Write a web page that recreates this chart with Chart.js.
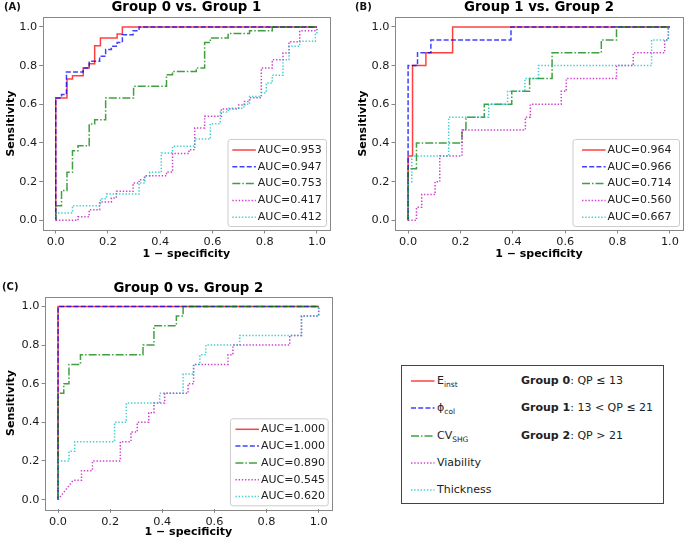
<!DOCTYPE html>
<html>
<head>
<meta charset="utf-8">
<script src="https://cdn.jsdelivr.net/npm/chart.js@4.4.1/dist/chart.umd.min.js"></script>
<style>
  body { margin: 0; background: #fff; font-family: "DejaVu Sans", sans-serif; color: #111; }
  #page { position: relative; width: 685px; height: 543px; overflow: hidden; }
  canvas { position: absolute; }
  .tag { position: absolute; font-weight: bold; font-size: 10px; line-height: 12px; }
  #keys { position: absolute; left: 401px; top: 365px; width: 261px; height: 137px; border: 1px solid #444; font-size: 11px; color: #222; }
  .row { position: absolute; height: 14px; line-height: 14px; white-space: nowrap; }
  .row svg { position: absolute; left: 9px; top: 4px; }
  .row .name { position: absolute; left: 35px; }
  .sub { font-size: 7.5px; position: relative; top: 3px; }
  .grp { position: absolute; left: 119px; white-space: nowrap; }
</style>
</head>
<body>
<div id="page">
  <canvas id="chartA" width="340" height="265" style="left:0;top:0"></canvas>
  <canvas id="chartB" width="333" height="265" style="left:352px;top:0"></canvas>
  <canvas id="chartC" width="340" height="273" style="left:0;top:270px"></canvas>
  <div class="tag" style="left:4px;top:1px">(A)</div>
  <div class="tag" style="left:355px;top:1px">(B)</div>
  <div class="tag" style="left:2px;top:281px">(C)</div>
  <div id="keys"></div>
</div>
<script>
// Series names, groups and ticks
const seriesNames = ["E_inst", "ϕ_col", "CV_SHG", "Viability", "Thickness"];
const groupNames = ["Group 0", "Group 1", "Group 2"];
const groupRanges = ["QP ≤ 13", "13 < QP ≤ 21", "QP > 21"];
const tickValues = [0, 0.2, 0.4, 0.6, 0.8, 1.0];

// (A) Group 0 vs. Group 1 : ROC points (1 - specificity, sensitivity)
const aucA = ["0.953", "0.947", "0.753", "0.417", "0.412"];
const fprA_einst = [0, 0, 0.043, 0.043, 0.064, 0.064, 0.105, 0.105, 0.128, 0.128, 0.149, 0.149, 0.171, 0.171, 0.235, 0.235, 0.255, 0.255, 1];
const tprA_einst = [0, 0.633, 0.633, 0.731, 0.731, 0.748, 0.748, 0.788, 0.788, 0.81, 0.81, 0.903, 0.903, 0.943, 0.943, 0.964, 0.964, 1, 1];
const fprA_phi = [0, 0, 0.022, 0.022, 0.041, 0.041, 0.105, 0.105, 0.128, 0.128, 0.168, 0.168, 0.191, 0.191, 0.213, 0.213, 0.235, 0.235, 0.255, 0.255, 0.296, 0.296, 0.319, 0.319, 1];
const tprA_phi = [0, 0.633, 0.633, 0.65, 0.65, 0.767, 0.767, 0.788, 0.788, 0.822, 0.822, 0.848, 0.848, 0.883, 0.883, 0.9, 0.9, 0.92, 0.92, 0.96, 0.96, 0.98, 0.98, 1, 1];
const fprA_cv = [0, 0, 0.022, 0.022, 0.043, 0.043, 0.064, 0.064, 0.085, 0.085, 0.128, 0.128, 0.149, 0.149, 0.191, 0.191, 0.298, 0.298, 0.424, 0.424, 0.447, 0.447, 0.538, 0.538, 0.57, 0.57, 0.592, 0.592, 0.66, 0.66, 0.742, 0.742, 0.829, 0.829, 1];
const tprA_cv = [0, 0.076, 0.076, 0.154, 0.154, 0.248, 0.248, 0.36, 0.36, 0.386, 0.386, 0.498, 0.498, 0.52, 0.52, 0.633, 0.633, 0.693, 0.693, 0.753, 0.753, 0.77, 0.77, 0.788, 0.788, 0.92, 0.92, 0.943, 0.943, 0.966, 0.966, 0.98, 0.98, 1, 1];
const fprA_via = [0, 0.085, 0.085, 0.128, 0.128, 0.168, 0.168, 0.213, 0.213, 0.232, 0.232, 0.296, 0.296, 0.319, 0.319, 0.34, 0.34, 0.424, 0.424, 0.447, 0.447, 0.51, 0.51, 0.532, 0.532, 0.57, 0.57, 0.634, 0.634, 0.7, 0.7, 0.723, 0.723, 0.742, 0.742, 0.787, 0.787, 0.829, 0.829, 0.87, 0.87, 0.893, 0.893, 0.934, 0.934, 1, 1];
const tprA_via = [0, 0, 0.018, 0.018, 0.055, 0.055, 0.095, 0.095, 0.116, 0.116, 0.15, 0.15, 0.193, 0.193, 0.21, 0.21, 0.23, 0.23, 0.25, 0.25, 0.346, 0.346, 0.365, 0.365, 0.478, 0.478, 0.538, 0.538, 0.576, 0.576, 0.596, 0.596, 0.615, 0.615, 0.634, 0.634, 0.788, 0.788, 0.83, 0.83, 0.865, 0.865, 0.923, 0.923, 0.98, 0.98, 1];
const fprA_thk = [0, 0, 0.064, 0.064, 0.171, 0.171, 0.194, 0.194, 0.319, 0.319, 0.341, 0.341, 0.36, 0.36, 0.404, 0.404, 0.447, 0.447, 0.532, 0.532, 0.592, 0.592, 0.63, 0.63, 0.66, 0.66, 0.72, 0.72, 0.742, 0.742, 0.787, 0.787, 0.806, 0.806, 0.829, 0.829, 0.87, 0.87, 0.893, 0.893, 0.934, 0.934, 0.994, 0.994, 1, 1];
const tprA_thk = [0, 0.038, 0.038, 0.076, 0.076, 0.112, 0.112, 0.136, 0.136, 0.193, 0.193, 0.231, 0.231, 0.248, 0.248, 0.348, 0.348, 0.383, 0.383, 0.42, 0.42, 0.5, 0.5, 0.56, 0.56, 0.58, 0.58, 0.6, 0.6, 0.64, 0.64, 0.66, 0.66, 0.71, 0.71, 0.75, 0.75, 0.83, 0.83, 0.9, 0.9, 0.926, 0.926, 0.97, 0.97, 1];

// (B) Group 1 vs. Group 2
const aucB = ["0.964", "0.966", "0.714", "0.560", "0.667"];
const fprB_einst = [0, 0, 0.017, 0.017, 0.068, 0.068, 0.17, 0.17, 1];
const tprB_einst = [0, 0.333, 0.333, 0.8, 0.8, 0.867, 0.867, 1, 1];
const fprB_phi = [0, 0, 0.036, 0.036, 0.087, 0.087, 0.393, 0.393, 1];
const tprB_phi = [0, 0.8, 0.8, 0.867, 0.867, 0.933, 0.933, 1, 1];
const fprB_cv = [0, 0, 0.032, 0.032, 0.206, 0.206, 0.221, 0.221, 0.291, 0.291, 0.396, 0.396, 0.464, 0.464, 0.55, 0.55, 0.738, 0.738, 0.796, 0.796, 1];
const tprB_cv = [0, 0.267, 0.267, 0.4, 0.4, 0.467, 0.467, 0.533, 0.533, 0.6, 0.6, 0.667, 0.667, 0.733, 0.733, 0.867, 0.867, 0.933, 0.933, 1, 1];
const fprB_via = [0, 0.032, 0.032, 0.052, 0.052, 0.103, 0.103, 0.121, 0.121, 0.206, 0.206, 0.448, 0.448, 0.467, 0.467, 0.585, 0.585, 0.604, 0.604, 0.796, 0.796, 0.86, 0.86, 0.98, 0.98, 0.994, 0.994, 1];
const tprB_via = [0, 0, 0.067, 0.067, 0.133, 0.133, 0.2, 0.2, 0.333, 0.333, 0.467, 0.467, 0.533, 0.533, 0.6, 0.6, 0.667, 0.667, 0.733, 0.733, 0.8, 0.8, 0.867, 0.867, 0.933, 0.933, 1, 1];
const fprB_thk = [0, 0, 0.014, 0.014, 0.155, 0.155, 0.308, 0.308, 0.38, 0.38, 0.446, 0.446, 0.498, 0.498, 0.93, 0.93, 0.994, 0.994, 1];
const tprB_thk = [0, 0.2, 0.2, 0.333, 0.333, 0.533, 0.533, 0.6, 0.6, 0.667, 0.667, 0.733, 0.733, 0.8, 0.8, 0.933, 0.933, 1, 1];

// (C) Group 0 vs. Group 2
const aucC = ["1.000", "1.000", "0.890", "0.545", "0.620"];
const fprC_einst = [0, 0, 1];
const tprC_einst = [0, 1, 1];
const fprC_phi = [0, 0, 1];
const tprC_phi = [0, 1, 1];
const fprC_cv = [0, 0, 0.022, 0.022, 0.042, 0.042, 0.086, 0.086, 0.326, 0.326, 0.368, 0.368, 0.454, 0.454, 0.48, 0.48, 1];
const tprC_cv = [0, 0.55, 0.55, 0.6, 0.6, 0.7, 0.7, 0.75, 0.75, 0.8, 0.8, 0.9, 0.9, 0.95, 0.95, 1, 1];
const fprC_via = [0, 0.058, 0.09, 0.09, 0.132, 0.132, 0.239, 0.239, 0.28, 0.28, 0.304, 0.304, 0.348, 0.348, 0.368, 0.368, 0.409, 0.409, 0.499, 0.499, 0.52, 0.52, 0.652, 0.652, 0.671, 0.671, 0.889, 0.889, 0.934, 0.934, 1, 1];
const tprC_via = [0, 0.1, 0.1, 0.15, 0.15, 0.2, 0.2, 0.3, 0.3, 0.35, 0.35, 0.4, 0.4, 0.45, 0.45, 0.5, 0.5, 0.55, 0.55, 0.6, 0.6, 0.7, 0.7, 0.75, 0.75, 0.8, 0.8, 0.85, 0.85, 0.95, 0.95, 1];
const fprC_thk = [0, 0, 0.042, 0.042, 0.064, 0.064, 0.217, 0.217, 0.262, 0.262, 0.39, 0.39, 0.48, 0.48, 0.52, 0.52, 0.544, 0.544, 0.567, 0.567, 0.697, 0.697, 0.934, 0.934, 1, 1];
const tprC_thk = [0, 0.2, 0.2, 0.25, 0.25, 0.3, 0.3, 0.4, 0.4, 0.5, 0.5, 0.55, 0.55, 0.65, 0.65, 0.7, 0.7, 0.75, 0.75, 0.8, 0.8, 0.85, 0.85, 0.95, 0.95, 1];

// Styles
const FONT = "DejaVu Sans";
const lineColors = ["rgba(255,0,0,0.75)", "rgba(0,0,255,0.75)", "rgba(0,128,0,0.75)", "rgba(191,0,191,0.75)", "rgba(0,191,191,0.75)"];
const lineDashes = [[], [5, 2.2], [8, 2, 1.5, 2], [1.4, 1.8], [1.4, 1.8]];

// box around the plot area
const framePlugin = {
  id: "frame",
  afterDatasetsDraw(chart) {
    const { ctx, chartArea: a } = chart;
    ctx.save();
    ctx.strokeStyle = "#888";
    ctx.lineWidth = 1;
    ctx.strokeRect(Math.round(a.left) + 0.5, Math.round(a.top) + 0.5, Math.round(a.right - a.left), Math.round(a.bottom - a.top));
    ctx.restore();
  },
};

// legend inside the plot, lower right
const aucLegend = {
  id: "aucLegend",
  afterDatasetsDraw(chart, args, opts) {
    const { ctx, chartArea: a } = chart;
    const sets = chart.data.datasets;
    ctx.save();
    ctx.font = "11px '" + FONT + "'";
    const textW = Math.max(...sets.map(d => ctx.measureText(d.label).width));
    const rowH = 16.8;
    const w = opts.padL + 23.5 + 2 + textW + opts.padR;
    const h = rowH * sets.length + 3;
    const x0 = a.right - 3.5 - w;
    const y0 = a.bottom - 3.5 - h;
    ctx.beginPath();
    ctx.roundRect(x0, y0, w, h, 2.5);
    ctx.fillStyle = "rgba(255,255,255,0.8)";
    ctx.fill();
    ctx.strokeStyle = "#cccccc";
    ctx.lineWidth = 1;
    ctx.stroke();
    sets.forEach((d, i) => {
      const y = y0 + 10.5 + i * rowH;
      ctx.beginPath();
      ctx.setLineDash(d.borderDash);
      ctx.strokeStyle = d.borderColor;
      ctx.lineWidth = d.borderWidth;
      ctx.moveTo(x0 + opts.padL, y);
      ctx.lineTo(x0 + opts.padL + 23.5, y);
      ctx.stroke();
      ctx.setLineDash([]);
      ctx.fillStyle = "#222";
      ctx.textBaseline = "middle";
      ctx.fillText(d.label, x0 + opts.padL + 25.5, y);
    });
    ctx.restore();
  },
};

function axis(label, size, dir) {
  return {
    type: "linear",
    min: -0.05,
    max: 1.05,
    afterBuildTicks: s => { s.ticks = tickValues.map(v => ({ value: v })); },
    afterFit: s => { if (dir === "x") s.height = size; else s.width = size; },
    ticks: { callback: v => v.toFixed(1), font: { family: FONT, size: 11.3 }, color: "#1a1a1a", padding: 2, maxRotation: 0, autoSkip: false },
    grid: { drawOnChartArea: false, tickLength: 3.5, color: "#888" },
    border: { display: false },
    title: { display: true, text: label, font: { family: FONT, size: 11, weight: "bold" }, color: "#000", padding: { top: 4.4, bottom: 4.4 } },
  };
}

function makePanel(id, fprs, tprs, aucs, title, lay) {
  const datasets = fprs.map((fx, i) => ({
    label: "AUC=" + aucs[i],
    data: fx.map((x, j) => ({ x: x, y: tprs[i][j] })),
    showLine: true,
    borderColor: lineColors[i],
    borderDash: lineDashes[i],
    borderWidth: 1.5,
    pointRadius: 0,
    order: fprs.length - i,
  }));
  return new Chart(document.getElementById(id), {
    type: "scatter",
    data: { datasets: datasets },
    options: {
      responsive: false,
      animation: false,
      layout: { padding: { left: 0, right: lay.right, top: 0, bottom: 0 } },
      scales: {
        x: axis("1 − specificity", lay.xh, "x"),
        y: axis("Sensitivity", lay.yw, "y"),
      },
      plugins: {
        legend: { display: false },
        tooltip: { enabled: false },
        title: {
          display: true, text: title, fullSize: false, color: "#000",
          font: { family: FONT, size: 13.3, weight: "bold" },
          padding: { top: lay.titleTop, bottom: lay.titleBottom },
        },
        aucLegend: { padL: lay.padL, padR: lay.padR },
      },
    },
    plugins: [framePlugin, aucLegend],
  });
}

makePanel("chartA",
  [fprA_einst, fprA_phi, fprA_cv, fprA_via, fprA_thk],
  [tprA_einst, tprA_phi, tprA_cv, tprA_via, tprA_thk],
  aucA, "Group 0 vs. Group 1",
  { right: 10, xh: 35, yw: 42.7, titleTop: 0, titleBottom: 1.3, padL: 4.3, padR: 4.7 });

makePanel("chartB",
  [fprB_einst, fprB_phi, fprB_cv, fprB_via, fprB_thk],
  [tprB_einst, tprB_phi, tprB_cv, tprB_via, tprB_thk],
  aucB, "Group 1 vs. Group 2",
  { right: 2, xh: 35, yw: 43, titleTop: 0, titleBottom: 1.3, padL: 9, padR: 8 });

makePanel("chartC",
  [fprC_einst, fprC_phi, fprC_cv, fprC_via, fprC_thk],
  [tprC_einst, tprC_phi, tprC_cv, tprC_via, tprC_thk],
  aucC, "Group 0 vs. Group 2",
  { right: 8.3, xh: 33.7, yw: 45, titleTop: 10.8, titleBottom: 0, padL: 5, padR: 3.3 });

// Shared legend (bottom right)
const keys = document.getElementById("keys");
seriesNames.forEach((name, i) => {
  const row = document.createElement("div");
  row.className = "row";
  row.style.top = (8 + i * 27.3) + "px";
  row.style.left = "0px";
  row.style.width = "100%";

  const svg = document.createElementNS("http://www.w3.org/2000/svg", "svg");
  svg.setAttribute("width", "24");
  svg.setAttribute("height", "6");
  const line = document.createElementNS("http://www.w3.org/2000/svg", "line");
  line.setAttribute("x1", "0");
  line.setAttribute("x2", "23.5");
  line.setAttribute("y1", "3");
  line.setAttribute("y2", "3");
  line.setAttribute("stroke", lineColors[i]);
  line.setAttribute("stroke-width", "1.5");
  if (lineDashes[i].length) line.setAttribute("stroke-dasharray", lineDashes[i].join(" "));
  svg.appendChild(line);
  row.appendChild(svg);

  const label = document.createElement("span");
  label.className = "name";
  const parts = name.split("_");
  label.textContent = parts[0];
  if (parts[1]) {
    const sub = document.createElement("span");
    sub.className = "sub";
    sub.textContent = parts[1];
    label.appendChild(sub);
  }
  row.appendChild(label);

  if (i < groupNames.length) {
    const grp = document.createElement("span");
    grp.className = "grp";
    const b = document.createElement("b");
    b.textContent = groupNames[i];
    grp.appendChild(b);
    grp.appendChild(document.createTextNode(": " + groupRanges[i]));
    row.appendChild(grp);
  }
  keys.appendChild(row);
});
</script>
</body>
</html>
